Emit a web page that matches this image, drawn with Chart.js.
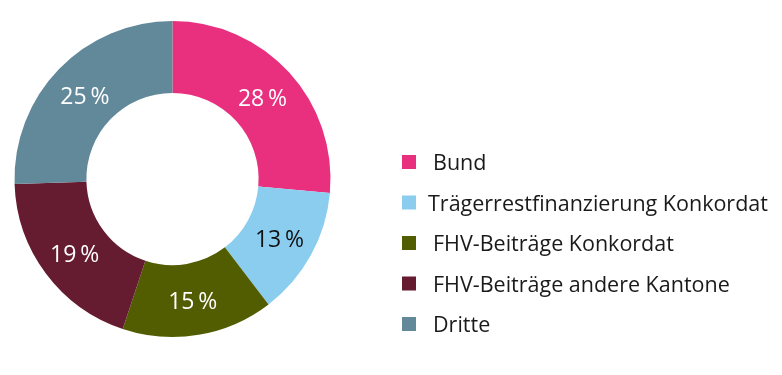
<!DOCTYPE html>
<html>
<head>
<meta charset="utf-8">
<script src="https://cdn.jsdelivr.net/npm/chart.js@4"></script>
<style>
  html, body { margin: 0; padding: 0; background: #fff; }
  #wrap { width: 782px; height: 375px; }
</style>
</head>
<body>
<div id="wrap"><canvas id="c" width="782" height="375"></canvas></div>
<script>
const labels = ["Bund", "Trägerrestfinanzierung Konkordat", "FHV-Beiträge Konkordat", "FHV-Beiträge andere Kantone", "Dritte"]
// angeschriebene werte
const anteile = [28, 13, 15, 19, 25]
// so gross sind die segmente im bild effektiv gezeichnet
const segmente = [26.4, 13.2, 15.5, 19.4, 25.5]
const farben = ["#e8307e", "#8bcdef", "#525c00", "#661c30", "#62899a"]
const textFarben = ["#fff", "#111", "#fff", "#fff", "#fff"]
const einzug = [0, -5, 0, 0, 0]

const schrift = "'Open Sans', sans-serif"

// prozent auf die segmente
const prozentLabels = {
  id: "prozentLabels",
  afterDatasetDraw(chart) {
    const { ctx } = chart
    const meta = chart.getDatasetMeta(0)
    ctx.save()
    ctx.font = "23px " + schrift
    ctx.textAlign = "center"
    ctx.textBaseline = "middle"
    meta.data.forEach((arc, i) => {
      const p = arc.tooltipPosition()
      ctx.fillStyle = textFarben[i]
      ctx.fillText(anteile[i] + "\u2009%", p.x, p.y + 3)
    })
    ctx.restore()
  }
}

// legende rechts
const legende = {
  id: "legende",
  afterDraw(chart) {
    const { ctx } = chart
    ctx.save()
    ctx.font = "21.5px " + schrift
    ctx.textBaseline = "middle"
    labels.forEach((l, i) => {
      let y = 162 + i * 40.5
      ctx.fillStyle = farben[i]
      ctx.fillRect(402, y - 7, 14, 14)
      ctx.fillStyle = "#1a1a1a"
      ctx.fillText(l, 433 + einzug[i], y + 2)
    })
    ctx.restore()
  }
}

new Chart(document.getElementById("c"), {
  type: "doughnut",
  data: {
    labels: labels,
    datasets: [{
      data: segmente,
      backgroundColor: farben,
      borderWidth: 0
    }]
  },
  options: {
    responsive: false,
    animation: false,
    cutout: "54.5%",
    layout: { padding: { left: 14, top: 21, right: 451, bottom: 38 } },
    plugins: {
      legend: { display: false },
      tooltip: { enabled: false }
    }
  },
  plugins: [prozentLabels, legende]
})
</script>
</body>
</html>
